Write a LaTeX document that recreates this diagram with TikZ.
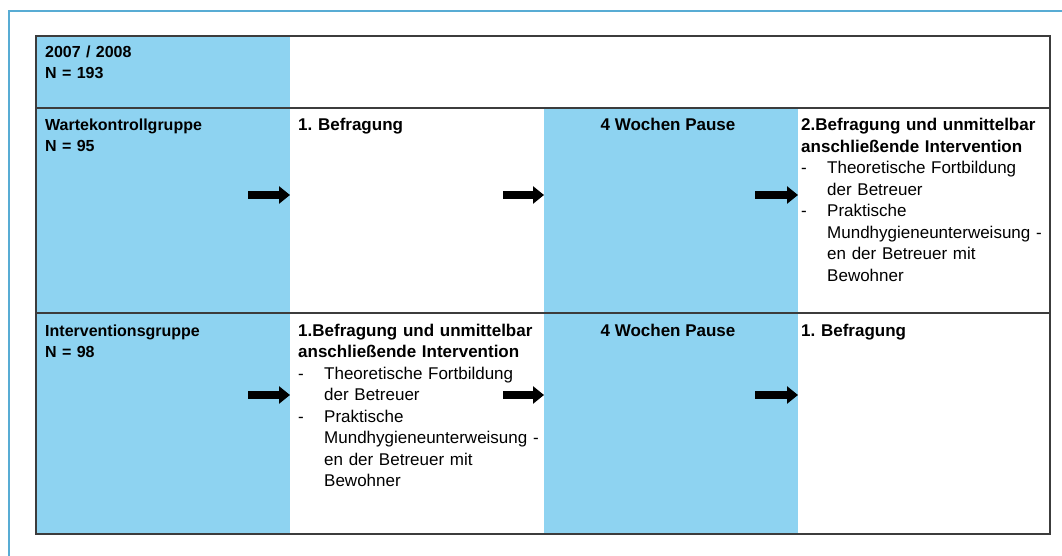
\documentclass[tikz,border=0pt]{standalone}
\usepackage{fontspec}
\setmainfont{Liberation Sans}
\usetikzlibrary{positioning}
\usetikzlibrary{arrows.meta}

\definecolor{cellblue}{RGB}{142,211,241}
\definecolor{frameblue}{RGB}{88,172,212}
\definecolor{rulegray}{RGB}{60,60,60}

% list item with hanging dash
\newcommand{\dashitem}[1]{\par\hangindent=26pt\hangafter=1\makebox[26pt][l]{-}#1\par}

\tikzset{
  bluecell/.style={fill=cellblue, anchor=north west, inner sep=0pt, outer sep=0pt, minimum width=254pt},
  txt/.style={anchor=base west, inner sep=0pt, align=left, text width=300pt, font=\fontsize{17}{21.5}\selectfont},
  headtxt/.style={txt, font=\fontsize{16}{21}\selectfont\bfseries},
  boldtxt/.style={txt, font=\fontsize{17}{21.5}\selectfont\bfseries},
  pausetxt/.style={anchor=base, inner sep=0pt, font=\fontsize{17}{21.5}\selectfont\bfseries},
  flow/.style={line width=8pt, -{Triangle[length=11pt,width=17pt]}},
  rule/.style={draw=rulegray, line width=1.3pt}
}

\begin{document}
\frenchspacing
\begin{tikzpicture}[x=1pt, y=-1pt]
                \useasboundingbox (0,0) rectangle (1062,556);

                % Frame
                \draw[frameblue, line width=1.5pt] (1062,11) -- (9,11) -- (9,556);

                % Cells
                \node[bluecell, minimum height=72pt] (head) at (36,36) {};
                \node[bluecell, minimum height=205pt] (wkgroup) at (36,108) {};
                \node[bluecell, minimum height=221pt] (ivgroup) at (36,313) {};
                \node[bluecell, minimum height=205pt] (wkpause) at (544,108) {};
                \node[bluecell, minimum height=221pt] (ivpause) at (544,313) {};
                \coordinate (tl) at (36,36);
                \coordinate (br) at (1050,534);

                % Rules
                \draw[rule] (tl) rectangle (br);
                \draw[rule] (wkgroup.north west) -- (wkgroup.north west -| br);
                \draw[rule] (ivgroup.north west) -- (ivgroup.north west -| br);

                % Texts
                \node[headtxt] (year) at (45,58) {2007 / 2008\\N = 193};
                \node[headtxt] (wk) at (45,131) {Wartekontrollgruppe\\N = 95};
                \node[boldtxt] (wkfirst) at (298,131) {1. Befragung};
                \node[pausetxt] (wkwait) at (668,131) {4 Wochen Pause};
                \node[txt] (wksecond) at (801,131) {{\bfseries 2.Befragung und unmittelbar\\anschließende Intervention}
                    \dashitem{Theoretische Fortbildung\newline der Betreuer}
                    \dashitem{Praktische\newline Mundhygieneunterweisung -\newline en der Betreuer mit\newline Bewohner}};

                \node[headtxt] (iv) at (45,336) {Interventionsgruppe\\N = 98};
                \node[txt] (ivfirst) at (298,336) {{\bfseries 1.Befragung und unmittelbar\\anschließende Intervention}
                    \dashitem{Theoretische Fortbildung\newline der Betreuer}
                    \dashitem{Praktische\newline Mundhygieneunterweisung -\newline en der Betreuer mit\newline Bewohner}};
                \node[pausetxt] (ivwait) at (668,336) {4 Wochen Pause};
                \node[boldtxt] (ivsecond) at (801,336) {1. Befragung};

                % Arrows
                \coordinate (wka) at (248,195);
                \coordinate (wkb) at (503,195);
                \coordinate (wkc) at (755,195);
                \coordinate (iva) at (248,395);
                \coordinate (ivb) at (503,395);
                \coordinate (ivc) at (755,395);
                \draw[flow] (wka) -- (wka -| wkgroup.east);
                \draw[flow] (wkb) -- (wkb -| wkpause.west);
                \draw[flow] (wkc) -- (wkc -| wkpause.east);
                \draw[flow] (iva) -- (iva -| ivgroup.east);
                \draw[flow] (ivb) -- (ivb -| ivpause.west);
                \draw[flow] (ivc) -- (ivc -| ivpause.east);

\end{tikzpicture}
\end{document}
